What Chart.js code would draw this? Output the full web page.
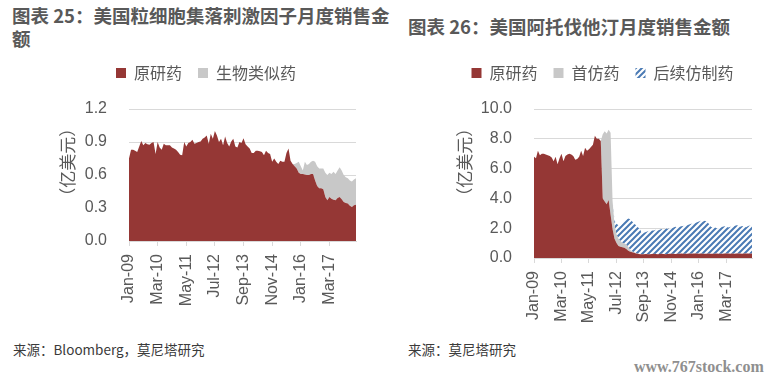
<!DOCTYPE html>
<html><head><meta charset="utf-8">
<script src="https://cdn.jsdelivr.net/npm/chart.js@4.4.1/dist/chart.umd.min.js"></script>
<style>
html,body{margin:0;padding:0;background:#fff;width:775px;height:382px;overflow:hidden;position:relative;font-family:'Noto Sans CJK SC',sans-serif;}
.t{position:absolute;font-weight:bold;color:#595959;font-size:18.5px;line-height:23px;white-space:nowrap;}
.src{position:absolute;color:#3a3a3a;font-size:13.5px;line-height:18px;white-space:nowrap;}
.wm{position:absolute;left:634px;top:357px;color:#8f8f8f;font-family:'Liberation Serif',serif;font-weight:bold;font-size:16px;line-height:20px;}
canvas{position:absolute;}
</style></head><body>
<div class="t" style="left:12px;top:4px">图表 25：美国粒细胞集落刺激因子月度销售金<br>额</div>
<div class="t" style="left:408px;top:15px">图表 26：美国阿托伐他汀月度销售金额</div>
<div class="src" style="left:13px;top:340px">来源：Bloomberg，莫尼塔研究</div>
<div class="src" style="left:408px;top:340px">来源：莫尼塔研究</div>
<div class="wm">www.767stock.com</div>
<canvas id="c1" width="400" height="282" style="left:0;top:40px;width:400px;height:282px"></canvas>
<canvas id="c2" width="375" height="299" style="left:400px;top:40px;width:375px;height:299px"></canvas>
<script>
// ---- Data ----
const monthNames = ['Jan','Feb','Mar','Apr','May','Jun','Jul','Aug','Sep','Oct','Nov','Dec'];
const startYear = 2009;
const monthCount = 112; // Jan-09 .. Apr-18
const months = [];
for (let k = 0; k < monthCount; k++) {
  const y = startYear + Math.floor(k / 12);
  months.push(monthNames[k % 12] + '-' + String(y).slice(2));
}
const tickEvery = 14;

// Chart 25: G-CSF monthly sales (100M USD)
const gcsfOriginator = [
0.75,0.83,0.83,0.82,0.81,0.86,0.91,0.87,0.89,0.88,
0.875,0.89,0.90,0.79,0.90,0.85,0.83,0.885,0.87,0.87,
0.87,0.85,0.84,0.83,0.81,0.785,0.78,0.90,0.86,0.89,
0.90,0.92,0.885,0.89,0.90,0.905,0.93,0.94,0.96,0.885,
0.975,0.93,1.0,0.96,0.90,0.93,0.87,0.95,0.89,0.86,
0.905,0.93,0.86,0.85,0.90,0.89,0.935,0.88,0.86,0.84,
0.80,0.80,0.82,0.82,0.815,0.81,0.78,0.82,0.80,0.79,
0.72,0.75,0.72,0.70,0.73,0.72,0.72,0.80,0.84,0.73,
0.70,0.68,0.66,0.62,0.61,0.61,0.605,0.60,0.60,0.61,
0.61,0.55,0.50,0.48,0.48,0.47,0.40,0.37,0.40,0.385,
0.375,0.37,0.39,0.40,0.38,0.355,0.345,0.34,0.32,0.31,
0.325,0.33
];
const gcsfBiosimilar = [
0,0,0,0,0,0,0,0,0,0,
0,0,0,0,0,0,0,0,0,0,
0,0,0,0,0,0,0,0,0,0,
0,0,0,0,0,0,0,0,0,0,
0,0,0,0,0,0,0,0,0,0,
0,0,0,0,0,0,0,0,0,0,
0,0,0,0,0,0,0,0,0,0,
0,0,0,0,0,0,0,0,0,0,
0,0.02,0.05,0.10,0.07,0.03,0.115,0.09,0.10,0.11,
0.12,0.17,0.18,0.18,0.18,0.19,0.22,0.23,0.22,0.225,
0.255,0.24,0.25,0.27,0.26,0.245,0.235,0.23,0.23,0.23,
0.235,0.24
];

// Chart 26: atorvastatin monthly sales (100M USD)
const atorOriginator = [
6.8,6.7,7.2,6.9,7.0,7.0,6.95,6.9,6.85,6.75,
6.5,6.8,6.3,6.7,7.0,6.5,6.85,6.95,7.0,6.95,
6.85,6.6,6.65,6.8,7.2,6.85,7.4,7.2,7.3,7.45,
7.6,8.2,8.0,8.0,7.85,4.0,3.8,3.6,3.9,2.9,
1.95,1.3,1.0,0.8,0.75,0.72,0.69,0.6,0.48,0.42,
0.38,0.35,0.3,0.28,0.26,0.25,0.26,0.27,0.26,0.25,
0.27,0.28,0.27,0.26,0.27,0.28,0.27,0.26,0.27,0.28,
0.29,0.28,0.27,0.28,0.29,0.30,0.29,0.28,0.29,0.30,
0.29,0.30,0.31,0.30,0.29,0.30,0.29,0.28,0.29,0.30,
0.29,0.28,0.29,0.30,0.29,0.28,0.29,0.30,0.31,0.30,
0.29,0.30,0.29,0.30,0.31,0.30,0.29,0.30,0.31,0.30,
0.29,0.30
];
const atorFirstGeneric = [
0,0,0,0,0,0,0,0,0,0,
0,0,0,0,0,0,0,0,0,0,
0,0,0,0,0,0,0,0,0,0,
0,0,0,0,0,4.3,4.7,4.75,4.7,5.5,
1.9,0.9,0.6,0.5,0.4,0.3,0.3,0.3,0.25,0.12,
0.06,0.03,0.02,0,0,0,0,0,0,0,
0,0,0,0,0,0,0,0,0,0,
0,0,0,0,0,0,0,0,0,0,
0,0,0,0,0,0,0,0,0,0,
0,0,0,0,0,0,0,0,0,0,
0,0,0,0,0,0,0,0,0,0,
0,0
];
const atorLaterGenerics = [
0,0,0,0,0,0,0,0,0,0,
0,0,0,0,0,0,0,0,0,0,
0,0,0,0,0,0,0,0,0,0,
0,0,0,0,0,0,0,0,0,0,
0,0.3,0.7,0.9,1.0,1.28,1.51,1.7,1.92,2.06,
2.01,1.92,1.88,1.77,1.69,1.35,1.44,1.48,1.54,1.60,
1.58,1.57,1.63,1.59,1.63,1.67,1.63,1.74,1.68,1.72,
1.71,1.77,1.83,1.77,1.81,1.83,1.86,1.92,1.91,1.95,
2.01,2.00,2.04,2.10,2.16,2.20,2.16,2.22,2.16,2.00,
1.81,1.77,1.78,1.70,1.71,1.77,1.81,1.83,1.79,1.75,
1.81,1.77,1.86,1.90,1.87,1.80,1.86,1.80,1.76,1.85,
1.89,1.90
];

const yTicks25 = {min: 0, max: 1.2, step: 0.3};
const yTicks26 = {min: 0, max: 10, step: 2};

// ---- Styles ----
const RED = '#953735', GRAY = '#C8C8C8', TXT = '#595959', GRID = '#D9D9D9';
const CJK = "'Noto Sans CJK SC', sans-serif";
const LAT = "'Liberation Sans', 'Noto Sans CJK SC', sans-serif";

function hatch() {
  const c = document.createElement('canvas'); c.width = 6; c.height = 6;
  const x = c.getContext('2d');
  x.fillStyle = '#fff'; x.fillRect(0, 0, 6, 6);
  x.strokeStyle = '#4A7AB4'; x.lineWidth = 2;
  x.beginPath();
  x.moveTo(-1, 7); x.lineTo(7, -1);
  x.moveTo(-4, 4); x.lineTo(4, -4);
  x.moveTo(2, 10); x.lineTo(10, 2);
  x.stroke();
  return x.createPattern(c, 'repeat');
}

function legendGap(extra) {
  return { id: 'legendGap', beforeInit(chart) {
    const lg = chart.legend; const orig = lg.fit;
    lg.fit = function () { orig.call(this); this.height += extra; };
  }};
}

function ds(label, data, color, first) {
  return { label, data, backgroundColor: color, borderColor: 'rgba(0,0,0,0)', borderWidth: 0,
    pointRadius: 0, pointHoverRadius: 0, tension: 0, fill: first ? 'origin' : '-1' };
}

function makeChart(id, datasets, yt, padL, padR, yWidth, titleText) {
  return new Chart(document.getElementById(id), {
    type: 'line',
    data: { labels: months, datasets },
    options: {
      responsive: false, animation: false, devicePixelRatio: 1,
      layout: { padding: { left: padL, right: padR, top: 9, bottom: 0 } },
      plugins: {
        legend: { position: 'top', labels: { boxWidth: 10, boxHeight: 10, padding: 16, color: TXT,
          font: { family: CJK, size: 16 } } },
        tooltip: { enabled: false }
      },
      scales: {
        x: {
          grid: { drawOnChartArea: false, color: GRID, tickLength: 5 },
          border: { color: GRID },
          ticks: { autoSkip: false, maxRotation: 90, minRotation: 90, padding: 8, color: TXT,
            font: { family: LAT, size: 16 },
            callback: function (v, i) { return i % tickEvery === 0 ? this.getLabelForValue(v) : null; } },
          afterFit: s => { s.height = 81; }
        },
        y: {
          stacked: true, min: yt.min, max: yt.max,
          grid: { color: GRID, drawTicks: false },
          border: { display: false },
          ticks: { stepSize: yt.step, padding: 22, color: TXT, font: { family: LAT, size: 16 },
            callback: v => Number(v).toFixed(1) },
          title: { display: true, text: titleText, color: TXT, font: { family: CJK, size: 17 },
            padding: { top: 1, bottom: 0 } },
          afterFit: s => { s.width = yWidth; }
        }
      }
    },
    plugins: [legendGap(18)]
  });
}

makeChart('c1', [
  ds('原研药', gcsfOriginator, RED, true),
  ds('生物类似药', gcsfBiosimilar, GRAY, false)
], yTicks25, 56, 44, 73, '\u3000\u3000（亿美元）');

makeChart('c2', [
  ds('原研药', atorOriginator, RED, true),
  ds('首仿药', atorFirstGeneric, GRAY, false),
  ds('后续仿制药', atorLaterGenerics, hatch(), false)
], yTicks26, 53, 23, 81, '\u3000\u3000\u3000（亿美元）');
</script>
</body></html>
